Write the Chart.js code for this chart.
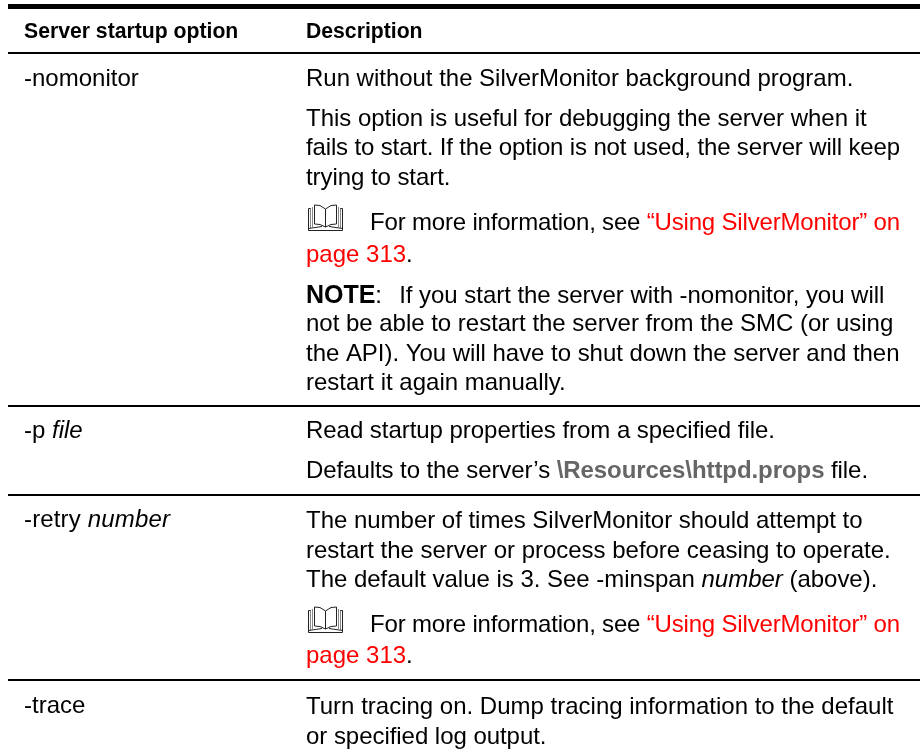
<!DOCTYPE html>
<html>
<head>
<meta charset="utf-8">
<style>
  html, body { margin: 0; padding: 0; background: #fff; }
  canvas { display: block; }
</style>
<script src="https://cdn.jsdelivr.net/npm/chart.js@4"></script>
</head>
<body>
<canvas id="table" width="920" height="756"></canvas>
<script>
// table content
const headerLabels = ['Server startup option', 'Description'];

const optionLines = [
  [['-nomonitor', 'plain']],
  [['-p ', 'plain'], ['file', 'italic']],
  [['-retry ', 'plain'], ['number', 'italic']],
  [['-trace', 'plain']],
];

const descriptionLines = [
  [['Run without the SilverMonitor background program.', 'plain']],
  [['This option is useful for debugging the server when it', 'plain']],
  [['fails to start. If the option is not used, the server will keep', 'plain']],
  [['trying to start.', 'plain']],
  [['For more information, see ', 'plain'], ['\u201cUsing SilverMonitor\u201d on', 'link']],
  [['page 313', 'link'], ['.', 'plain']],
  [['NOTE', 'note'], [':  \u2006If you start the server with -nomonitor, you will', 'plain']],
  [['not be able to restart the server from the SMC (or using', 'plain']],
  [['the API). You will have to shut down the server and then', 'plain']],
  [['restart it again manually.', 'plain']],
  [['Read startup properties from a specified file.', 'plain']],
  [['Defaults to the server\u2019s ', 'plain'], ['\\Resources\\httpd.props', 'path'], [' file.', 'plain']],
  [['The number of times SilverMonitor should attempt to', 'plain']],
  [['restart the server or process before ceasing to operate.', 'plain']],
  [['The default value is 3. See -minspan ', 'plain'], ['number', 'italic'], [' (above).', 'plain']],
  [['For more information, see ', 'plain'], ['\u201cUsing SilverMonitor\u201d on', 'link']],
  [['page 313', 'link'], ['.', 'plain']],
  [['Turn tracing on. Dump tracing information to the default', 'plain']],
  [['or specified log output.', 'plain']],
];

// layout, in page pixels
const headerLevel = 38;
const optionLevels = [86, 438, 527, 713];
const descriptionLevels = [86, 126, 155, 185, 230, 262, 303, 331, 361, 390, 438, 478, 528, 558, 587, 632, 663, 714, 744];
// how much wider or narrower each line is than the font sets it
const optionFit = [0, 0, 2, 0];
const descriptionFit = [-1, -1, -9, -1, -9, 0, -2, -1, -2, 0, -2, -4, -1, -1, -1, -9, 0, 0, -1];
const bookLines = [4, 15]; // description lines that start with the book icon
const ruleLevels = [6.5, 53, 406, 495, 680];
const ruleWidths = [5, 2, 2, 2, 2];
const ruleSpan = [8, 920];
const optionX = 24;
const descriptionX = 306;
const bookTextX = 370;

const FONT = '"Liberation Sans", Arial, sans-serif';
const styles = {
  plain: { font: '24px ' + FONT, color: '#000' },
  italic: { font: 'italic 24px ' + FONT, color: '#000' },
  link: { font: '24px ' + FONT, color: '#ff0000' },
  note: { font: 'bold 25px ' + FONT, color: '#000' },
  path: { font: 'bold 24px ' + FONT, color: '#666' },
  header: { font: 'bold 21.2px ' + FONT, color: '#000' },
};

function drawRuns(ctx, runs, x, y, fit = 0) {
  const chars = runs.reduce((n, [text]) => n + text.length, 0);
  ctx.letterSpacing = (fit / chars).toFixed(3) + 'px';
  runs.forEach(([text, style]) => {
    ctx.font = styles[style].font;
    ctx.fillStyle = styles[style].color;
    ctx.fillText(text, x, y);
    x += ctx.measureText(text).width;
  });
  ctx.letterSpacing = '0px';
}

function drawBook(ctx, x, y) {
  ctx.save();
  ctx.translate(x, y);
  ctx.lineWidth = 1;
  // page edges on both sides
  ctx.strokeStyle = '#888';
  ctx.beginPath();
  ctx.moveTo(2.5, 4);
  ctx.lineTo(2.5, 24);
  ctx.moveTo(4.5, 3);
  ctx.lineTo(4.5, 23);
  ctx.moveTo(32.5, 4);
  ctx.lineTo(32.5, 24);
  ctx.moveTo(30.5, 3);
  ctx.lineTo(30.5, 23);
  ctx.stroke();
  ctx.strokeStyle = '#222';
  ctx.beginPath();
  // left page
  ctx.moveTo(17.5, 5);
  ctx.quadraticCurveTo(12, 0, 6.5, 1);
  ctx.lineTo(6.5, 20);
  ctx.quadraticCurveTo(12, 19.5, 17.5, 23);
  // right page
  ctx.moveTo(17.5, 5);
  ctx.quadraticCurveTo(23, 0, 28.5, 1);
  ctx.lineTo(28.5, 20);
  ctx.quadraticCurveTo(23, 19.5, 17.5, 23);
  ctx.lineTo(17.5, 5);
  // cover
  ctx.moveTo(2.5, 4.5);
  ctx.lineTo(0.5, 4.5);
  ctx.lineTo(0.5, 26.5);
  ctx.lineTo(34.5, 26.5);
  ctx.lineTo(34.5, 4.5);
  ctx.lineTo(32.5, 4.5);
  ctx.moveTo(0.5, 24.5);
  ctx.lineTo(14, 22.5);
  ctx.moveTo(21, 22.5);
  ctx.lineTo(34.5, 24.5);
  ctx.stroke();
  ctx.restore();
}

const tableText = {
  id: 'tableText',
  afterDatasetsDraw(chart) {
    const { ctx, scales: { x, y } } = chart;
    ctx.save();
    ctx.textBaseline = 'alphabetic';
    ctx.textAlign = 'left';
    drawRuns(ctx, [[headerLabels[0], 'header']], x.getPixelForValue(optionX), y.getPixelForValue(headerLevel));
    drawRuns(ctx, [[headerLabels[1], 'header']], x.getPixelForValue(descriptionX), y.getPixelForValue(headerLevel));
    optionLines.forEach((runs, i) => {
      drawRuns(ctx, runs, x.getPixelForValue(optionX), y.getPixelForValue(optionLevels[i]), optionFit[i]);
    });
    descriptionLines.forEach((runs, i) => {
      const hasBook = bookLines.includes(i);
      const left = hasBook ? bookTextX : descriptionX;
      const level = y.getPixelForValue(descriptionLevels[i]);
      if (hasBook) drawBook(ctx, x.getPixelForValue(descriptionX + 2), level - 26);
      drawRuns(ctx, runs, x.getPixelForValue(left), level, descriptionFit[i]);
    });
    ctx.restore();
  },
};

new Chart(document.getElementById('table'), {
  type: 'scatter',
  data: {
    datasets: ruleLevels.map((level, i) => ({
      data: ruleSpan.map((px) => ({ x: px, y: level })),
      showLine: true,
      borderColor: '#000',
      borderWidth: ruleWidths[i],
      pointRadius: 0,
    })),
  },
  options: {
    responsive: false,
    animation: false,
    layout: { padding: 0 },
    plugins: { legend: { display: false }, tooltip: { enabled: false } },
    scales: {
      x: { type: 'linear', display: false, min: 0, max: 920 },
      y: { type: 'linear', display: false, min: 0, max: 756, reverse: true },
    },
  },
  plugins: [tableText],
});
</script>
</body>
</html>
